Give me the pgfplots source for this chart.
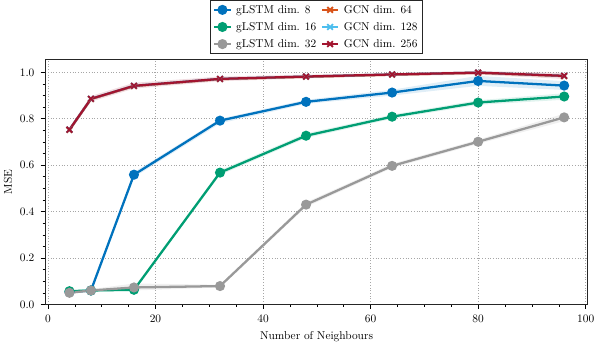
\documentclass[border=0pt]{standalone}
\usepackage{pgfplots}
\pgfplotsset{compat=1.18}
\definecolor{cblue}{HTML}{0072BD}
\definecolor{cgreen}{HTML}{009E73}
\definecolor{cgray}{HTML}{999999}
\definecolor{corange}{HTML}{D95319}
\definecolor{ccyan}{HTML}{4DBEEE}
\definecolor{cred}{HTML}{A2142F}
\begin{document}
\begin{tikzpicture}
\begin{axis}[
  scale only axis,
  width=477pt, height=215pt,
  xmin=-0.5, xmax=100.4, ymin=0, ymax=1.054,
  xtick={0,20,40,60,80,100},
  ytick={0,0.2,0.4,0.6,0.8,1.0},
  yticklabel style={xshift=-2pt, /pgf/number format/fixed, /pgf/number format/fixed zerofill, /pgf/number format/precision=1},
  xticklabel style={yshift=-2pt},
  minor x tick num=3, minor y tick num=3,
  tick align=outside, tick pos=left,
  major tick length=4pt, minor tick length=2.2pt,
  every tick/.style={black, line width=0.5pt},
  axis line style={line width=0.8pt, black!85},
  grid=major,
  major grid style={dotted, gray!70, line width=0.5pt},
  xlabel={Number of Neighbours}, ylabel={MSE},
  xlabel style={yshift=-1pt},
  ylabel style={yshift=0pt},
  legend columns=3, transpose legend,
  legend style={at={(0.5,1.024)}, anchor=south, draw=black!85, line width=0.8pt,
     font=\normalsize, column sep=2pt, row sep=2.5pt, inner sep=2pt},
  legend cell align=left,
  legend image code/.code={%
     \draw[mark repeat=2,mark phase=2] plot coordinates {(0cm,0cm) (0.25cm,0cm) (0.5cm,0cm)};},
]
% bands
\addplot[fill=cblue, fill opacity=0.12, draw=none, forget plot] coordinates {
 (4,0.058)(8,0.065)(16,0.57)(32,0.80)(48,0.882)(64,0.925)(80,0.985)(96,0.962)
 (96,0.924)(80,0.942)(64,0.900)(48,0.864)(32,0.78)(16,0.548)(8,0.055)(4,0.048)} -- cycle;
\addplot[fill=cgreen, fill opacity=0.12, draw=none, forget plot] coordinates {
 (4,0.062)(8,0.065)(16,0.07)(32,0.578)(48,0.737)(64,0.818)(80,0.88)(96,0.91)
 (96,0.882)(80,0.86)(64,0.80)(48,0.717)(32,0.558)(16,0.058)(8,0.055)(4,0.052)} -- cycle;
\addplot[fill=cgray, fill opacity=0.15, draw=none, forget plot] coordinates {
 (4,0.055)(8,0.066)(16,0.09)(32,0.085)(48,0.44)(64,0.606)(80,0.71)(96,0.822)
 (96,0.79)(80,0.692)(64,0.588)(48,0.42)(32,0.073)(16,0.06)(8,0.054)(4,0.045)} -- cycle;
\addplot[fill=cred, fill opacity=0.15, draw=none, forget plot] coordinates {
 (4,0.763)(8,0.898)(16,0.955)(32,0.982)(48,0.99)(64,0.998)(80,1.006)(96,0.998)
 (96,0.972)(80,0.99)(64,0.984)(48,0.974)(32,0.962)(16,0.93)(8,0.874)(4,0.743)} -- cycle;
% lines
\addplot[cblue, line width=2pt, mark=*, mark size=3.4pt] coordinates {
 (4,0.053)(8,0.060)(16,0.559)(32,0.792)(48,0.873)(64,0.913)(80,0.963)(96,0.943)};
\addlegendentry{gLSTM dim. 8}
\addplot[cgreen, line width=2pt, mark=*, mark size=3.4pt] coordinates {
 (4,0.057)(8,0.060)(16,0.063)(32,0.568)(48,0.727)(64,0.809)(80,0.870)(96,0.896)};
\addlegendentry{gLSTM dim. 16}
\addplot[cgray, line width=2pt, mark=*, mark size=3.4pt] coordinates {
 (4,0.050)(8,0.060)(16,0.073)(32,0.079)(48,0.430)(64,0.597)(80,0.701)(96,0.806)};
\addlegendentry{gLSTM dim. 32}
\addplot[corange, line width=2pt, mark=x, mark size=3.5pt, mark options={line width=1.6pt}] coordinates {
 (4,0.752)(8,0.885)(16,0.941)(32,0.971)(48,0.981)(64,0.990)(80,0.998)(96,0.984)};
\addlegendentry{GCN dim. 64}
\addplot[ccyan, line width=2pt, mark=x, mark size=3.5pt, mark options={line width=1.6pt}] coordinates {
 (4,0.753)(8,0.886)(16,0.942)(32,0.972)(48,0.982)(64,0.991)(80,0.999)(96,0.985)};
\addlegendentry{GCN dim. 128}
\addplot[cred, line width=2pt, mark=x, mark size=3.5pt, mark options={line width=1.6pt}] coordinates {
 (4,0.753)(8,0.886)(16,0.942)(32,0.972)(48,0.982)(64,0.991)(80,0.999)(96,0.985)};
\addlegendentry{GCN dim. 256}
\end{axis}
\end{tikzpicture}
\end{document}
